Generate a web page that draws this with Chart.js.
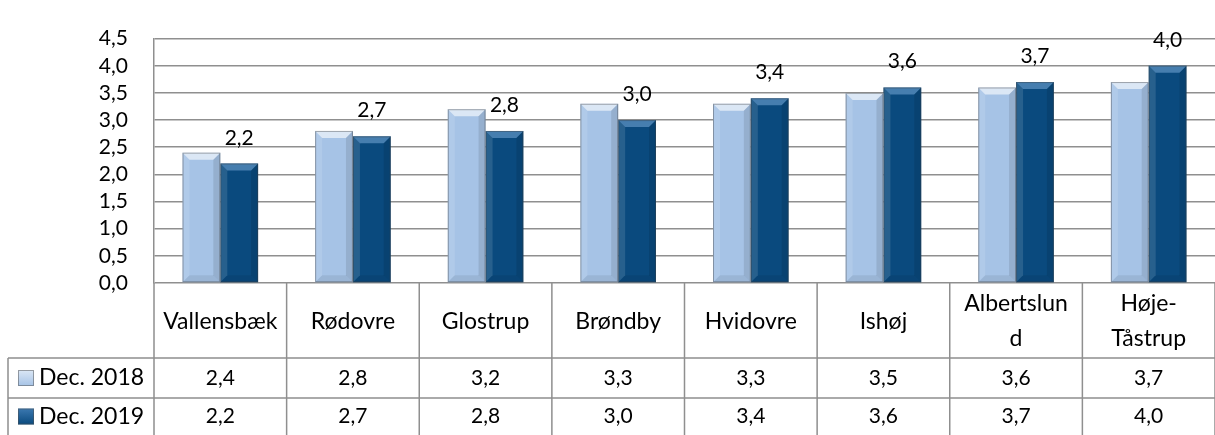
<!DOCTYPE html>
<html>
<head>
<meta charset="utf-8">
<script src="https://cdn.jsdelivr.net/npm/chart.js@4/dist/chart.umd.min.js"></script>
<style>
  html, body { margin: 0; padding: 0; background: #fff; }
  #wrap { width: 1215px; height: 435px; }
</style>
</head>
<body>
<div id="wrap"><canvas id="myChart" width="1215" height="435"></canvas></div>
<script>
const categories = ["Vallensbæk", "Rødovre", "Glostrup", "Brøndby", "Hvidovre", "Ishøj", "Albertslund", "Høje-Tåstrup"];
// how the header cells wrap the names
const header_lines = [["Vallensbæk"], ["Rødovre"], ["Glostrup"], ["Brøndby"], ["Hvidovre"], ["Ishøj"], ["Albertslun", "d"], ["Høje-", "Tåstrup"]];
const series_names = ["Dec. 2018", "Dec. 2019"];
const dec2018 = [2.4, 2.8, 3.2, 3.3, 3.3, 3.5, 3.6, 3.7];
const dec2019 = [2.2, 2.7, 2.8, 3.0, 3.4, 3.6, 3.7, 4.0];
const y_max = 4.5;
const y_step = 0.5;

const FONT = "Lato, 'Open Sans', sans-serif";
const TXT = "23px " + FONT;   // names
const NUM = "21px " + FONT;   // numbers
const LINE = "#8f8f8f";
const light = "#a6c3e6";
const dark = "#0a4a7e";

function fmt(v) {
  return v.toFixed(1).replace(".", ",");
}

// bevel look like the office chart
const bevelPlugin = {
  id: "bevel",
  afterDatasetsDraw(chart) {
    const c = chart.ctx;
    chart.data.datasets.forEach((ds, di) => {
      const meta = chart.getDatasetMeta(di);
      meta.data.forEach((bar) => {
        const l = bar.x - bar.width / 2;
        const r = bar.x + bar.width / 2;
        const t = bar.y;
        const b = bar.base;
        const d = 7;
        c.save();
        // top face
        c.fillStyle = di == 0 ? "rgba(255,255,255,0.6)" : "rgba(120,170,215,0.55)";
        c.beginPath();
        c.moveTo(l, t); c.lineTo(r, t); c.lineTo(r - d, t + d); c.lineTo(l + d, t + d); c.closePath();
        c.fill();
        // left face
        c.fillStyle = "rgba(255,255,255,0.12)";
        c.beginPath();
        c.moveTo(l, t); c.lineTo(l + d, t + d); c.lineTo(l + d, b - d); c.lineTo(l, b); c.closePath();
        c.fill();
        // right face
        c.fillStyle = "rgba(0,0,0,0.1)";
        c.beginPath();
        c.moveTo(r, t); c.lineTo(r - d, t + d); c.lineTo(r - d, b - d); c.lineTo(r, b); c.closePath();
        c.fill();
        // bottom face
        c.fillStyle = "rgba(0,0,0,0.07)";
        c.beginPath();
        c.moveTo(l, b); c.lineTo(l + d, b - d); c.lineTo(r - d, b - d); c.lineTo(r, b); c.closePath();
        c.fill();
        c.strokeStyle = "rgba(60,60,60,0.4)";
        c.lineWidth = 1;
        c.strokeRect(l + 0.5, t + 0.5, bar.width - 1, b - t - 1);
        c.restore();
      });
    });
    // value labels for Dec. 2019
    const meta2 = chart.getDatasetMeta(1);
    c.save();
    c.font = NUM;
    c.fillStyle = "#000";
    c.textAlign = "center";
    c.textBaseline = "alphabetic";
    meta2.data.forEach((bar, i) => {
      c.fillText(fmt(dec2019[i]), bar.x, bar.y - 19);
    });
    c.restore();
  },
};

// data table below the plot
const tablePlugin = {
  id: "dataTable",
  afterDraw(chart) {
    const c = chart.ctx;
    const xs = chart.scales.x;
    const area = chart.chartArea;
    const n = categories.length;
    const w = (area.right - area.left) / n;
    const top = area.bottom;
    const row1 = top + 75;
    const row2 = row1 + 40;
    const bottom = chart.height;
    const leftEdge = 8;

    c.save();
    c.strokeStyle = LINE;
    c.lineWidth = 1.5;
    c.beginPath();
    for (let i = 0; i <= n; i++) {
      const x = area.left + i * w;
      c.moveTo(x, top); c.lineTo(x, bottom);
    }
    c.moveTo(leftEdge, row1); c.lineTo(area.right, row1);
    c.moveTo(leftEdge, row2); c.lineTo(area.right, row2);
    c.moveTo(leftEdge, row1); c.lineTo(leftEdge, bottom);
    c.stroke();

    c.fillStyle = "#000";
    c.textAlign = "center";
    c.textBaseline = "middle";
    for (let i = 0; i < n; i++) {
      const cx = xs.getPixelForValue(i);
      const lines = header_lines[i];
      const cy = (top + row1) / 2;
      c.font = TXT;
      if (lines.length == 1) {
        c.fillText(lines[0], cx, cy + 1);
      } else {
        c.fillText(lines[0], cx, cy - 17);
        c.fillText(lines[1], cx, cy + 18);
      }
      c.font = NUM;
      c.fillText(fmt(dec2018[i]), cx, (row1 + row2) / 2);
      c.fillText(fmt(dec2019[i]), cx, (row2 + bottom) / 2);
    }

    // legend keys
    const rows = [[row1, row2, light], [row2, bottom, dark]];
    rows.forEach((rw, k) => {
      const cy = (rw[0] + rw[1]) / 2;
      const g = c.createLinearGradient(0, cy - 8, 0, cy + 8);
      g.addColorStop(0, k == 0 ? "#dbe7f5" : "#3b78b0");
      g.addColorStop(1, rw[2]);
      c.fillStyle = g;
      c.fillRect(18, cy - 8, 16, 16);
      c.strokeStyle = "rgba(80,80,80,0.5)";
      c.lineWidth = 1;
      c.strokeRect(18.5, cy - 7.5, 15, 15);
      c.fillStyle = "#000";
      c.textAlign = "left";
      c.font = TXT;
      c.fillText(series_names[k], 39, cy);
    });
    c.restore();
  },
};

const ctx = document.getElementById("myChart").getContext("2d");

var myChart = new Chart(ctx, {
  type: "bar",
  data: {
    labels: categories,
    datasets: [
      {
        label: series_names[0],
        data: dec2018,
        backgroundColor: light,
        borderWidth: 0,
        barPercentage: 1,
        categoryPercentage: 0.57,
      },
      {
        label: series_names[1],
        data: dec2019,
        backgroundColor: dark,
        borderWidth: 0,
        barPercentage: 1,
        categoryPercentage: 0.57,
      },
    ],
  },
  options: {
    responsive: false,
    animation: false,
    devicePixelRatio: 1,
    layout: {
      padding: { top: 25, right: 0, bottom: 152, left: 0 },
    },
    plugins: {
      legend: { display: false },
      tooltip: { enabled: false },
      title: { display: false },
    },
    scales: {
      x: {
        display: false,
      },
      y: {
        min: 0,
        max: y_max,
        afterFit(scale) {
          scale.width = 154;
        },
        ticks: {
          stepSize: y_step,
          autoSkip: false,
          padding: 26,
          color: "#000",
          font: { family: FONT, size: 21 },
          callback: (v) => fmt(v),
        },
        grid: {
          color: LINE,
          lineWidth: 1.5,
          drawTicks: false,
        },
        border: {
          display: true,
          color: LINE,
          width: 1.5,
        },
      },
    },
  },
  plugins: [bevelPlugin, tablePlugin],
});
</script>
</body>
</html>
